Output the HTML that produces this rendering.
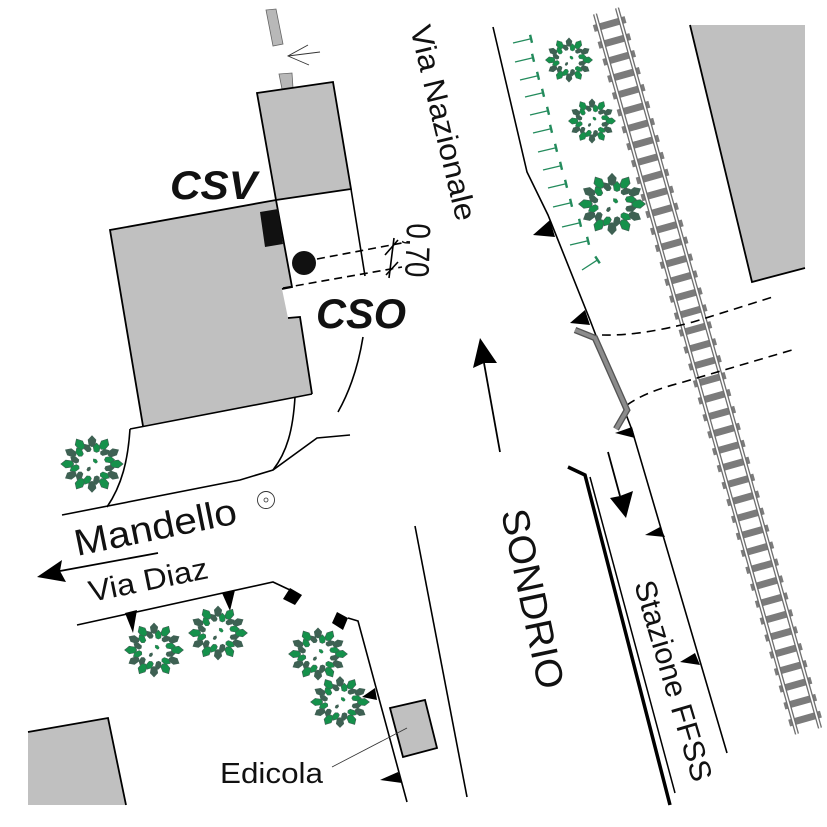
<!DOCTYPE html>
<html><head><meta charset="utf-8"><style>
html,body{margin:0;padding:0;background:#fff;}
svg{display:block;}
text{font-family:"Liberation Sans",Arial,sans-serif;fill:#111;}
</style></head><body>
<svg xmlns="http://www.w3.org/2000/svg" width="827" height="827" viewBox="0 0 827 827">
<defs>
<path id="lf" d="M0,-7 L4.4,-2 L3.4,4.5 L0,6.2 L-3.4,4.5 L-4.4,-2Z"/>
<g id="tree">
 <g fill="#3e6153">
  <use href="#lf" transform="rotate(0) translate(0,-22.5) scale(.9)"/>
  <use href="#lf" transform="rotate(60) translate(0,-22.5) scale(.9)"/>
  <use href="#lf" transform="rotate(120) translate(0,-22.5) scale(.9)"/>
  <use href="#lf" transform="rotate(180) translate(0,-22.5) scale(.9)"/>
  <use href="#lf" transform="rotate(240) translate(0,-22.5) scale(.9)"/>
  <use href="#lf" transform="rotate(300) translate(0,-22.5) scale(.9)"/>
  <use href="#lf" transform="rotate(45) translate(0,-16.5) rotate(20) scale(.72)"/>
  <use href="#lf" transform="rotate(105) translate(0,-16.5) rotate(-20) scale(.72)"/>
  <use href="#lf" transform="rotate(165) translate(0,-16.5) rotate(20) scale(.72)"/>
  <use href="#lf" transform="rotate(225) translate(0,-16.5) rotate(-20) scale(.72)"/>
  <use href="#lf" transform="rotate(285) translate(0,-16.5) rotate(20) scale(.72)"/>
  <use href="#lf" transform="rotate(345) translate(0,-16.5) rotate(-20) scale(.72)"/>
  <use href="#lf" transform="translate(-3,5) rotate(30) scale(.4)"/>
 </g>
 <g fill="#15914b" stroke="#3e6153" stroke-width="0.7">
  <use href="#lf" transform="rotate(30) translate(0,-22.5) scale(.9)"/>
  <use href="#lf" transform="rotate(90) translate(0,-22.5) scale(.9)"/>
  <use href="#lf" transform="rotate(150) translate(0,-22.5) scale(.9)"/>
  <use href="#lf" transform="rotate(210) translate(0,-22.5) scale(.9)"/>
  <use href="#lf" transform="rotate(270) translate(0,-22.5) scale(.9)"/>
  <use href="#lf" transform="rotate(330) translate(0,-22.5) scale(.9)"/>
  <use href="#lf" transform="rotate(15) translate(0,-16.5) rotate(-15) scale(.72)"/>
  <use href="#lf" transform="rotate(75) translate(0,-16.5) rotate(15) scale(.72)"/>
  <use href="#lf" transform="rotate(135) translate(0,-16.5) rotate(-15) scale(.72)"/>
  <use href="#lf" transform="rotate(195) translate(0,-16.5) rotate(15) scale(.72)"/>
  <use href="#lf" transform="rotate(255) translate(0,-16.5) rotate(-15) scale(.72)"/>
  <use href="#lf" transform="rotate(315) translate(0,-16.5) rotate(15) scale(.72)"/>
  <use href="#lf" transform="translate(3,-3) rotate(-40) scale(.4)"/>
 </g>
</g>
<g id="tk" fill="none" stroke="#238b5c">
 <path d="M0,0 L18,-4.2" stroke-width="1.3"/>
 <path d="M17.1,-8.2 L19,-0.2" stroke-width="2.4"/>
</g>
</defs>

<!-- Buildings -->
<polygon points="266,10 276,9 283,44 273,46" fill="#b8b8b8" stroke="#666" stroke-width="0.8"/>
<polygon points="279,74 292,73 293,88 282,89" fill="#b8b8b8" stroke="#666" stroke-width="0.8"/>
<polygon points="257,93 333,82 351,189 276,200" fill="#c0c0c0" stroke="#000" stroke-width="1.8"/>
<polygon points="110,230 276,200 292,287 282,289 288,318 300,317 312,394 143,426" fill="#c0c0c0"/>
<polyline points="143,426 110,230 276,200 292,287 282,289" fill="none" stroke="#000" stroke-width="1.8"/>
<polyline points="288,318 300,317 312,394" fill="none" stroke="#000" stroke-width="1.8"/>
<polygon points="260,212 278,209 283,244 265,247" fill="#111"/>
<polygon points="690,25 805,25 805,268 752,282" fill="#c0c0c0"/>
<polyline points="690,25 752,282 805,268" fill="none" stroke="#000" stroke-width="1.8"/>
<polygon points="28,732 108,718 126,805 28,805" fill="#c0c0c0"/>
<polyline points="28,732 108,718 126,805" fill="none" stroke="#000" stroke-width="1.8"/>
<polygon points="390,708 425,700 437,748 403,757" fill="#c0c0c0" stroke="#000" stroke-width="1.8"/>

<!-- Lines around buildings -->
<g fill="none" stroke="#000" stroke-width="1.6">
 <line x1="351" y1="189" x2="365" y2="276"/>
 <line x1="130" y1="429" x2="312" y2="394"/>
 <path d="M130,429 C128,460 122,485 107,507"/>
 <path d="M295,397 C293,430 287,452 273,470"/>
 <polyline points="62,515 240,480 273,470 317,438 350,435"/>
 <path d="M363,337 Q356,380 338,412"/>
 <polyline points="77,625 273,582 290,590"/>
 <polyline points="348,618 358,621 407,802"/>
 <line x1="415" y1="526" x2="467" y2="797"/>
 <polyline points="493,27 527,172 548,215 590,320 632,430 727,753"/>
 <line x1="394" y1="238" x2="389" y2="278"/>
 <line x1="385" y1="255" x2="398" y2="240"/>
 <line x1="386" y1="275" x2="398" y2="262"/>
</g>
<g fill="none" stroke="#000" stroke-width="1.6" stroke-dasharray="8 5">
 <line x1="317" y1="259" x2="402" y2="243"/>
 <line x1="283" y1="288" x2="402" y2="267"/>
</g>
<circle cx="304" cy="263" r="12" fill="#111"/>

<!-- small thin arrow at top -->
<g fill="none" stroke="#333" stroke-width="0.9">
 <line x1="288" y1="56" x2="320" y2="52"/>
 <polyline points="308,45 288,56 309,65"/>
</g>

<!-- target -->
<circle cx="266" cy="500" r="8.5" fill="none" stroke="#333" stroke-width="0.9"/>
<circle cx="266" cy="500" r="2" fill="none" stroke="#333" stroke-width="0.8"/>

<!-- railway -->
<line x1="606" y1="11" x2="808.5" y2="731" stroke="#7b7b7b" stroke-width="33" stroke-dasharray="7 10.6" stroke-dashoffset="7.6"/>
<line x1="595" y1="14" x2="797" y2="734" stroke="#6f6f6f" stroke-width="4.2"/>
<line x1="617" y1="8" x2="820" y2="728" stroke="#6f6f6f" stroke-width="4.2"/>
<line x1="595" y1="14" x2="797" y2="734" stroke="#fff" stroke-width="1.6"/>
<line x1="617" y1="8" x2="820" y2="728" stroke="#fff" stroke-width="1.6"/>

<!-- dashed crossings -->
<g fill="none" stroke="#000" stroke-width="1.6" stroke-dasharray="9 6">
 <path d="M602,335 Q640,336 693,322 L776,296"/>
 <path d="M627,405 Q645,392 680,383 L792,350"/>
</g>

<!-- pipe -->
<polyline points="575,330 595,338 627,410 616,429" fill="none" stroke="#555" stroke-width="6.5" stroke-linejoin="miter"/>
<polyline points="575,330 595,338 627,410 616,429" fill="none" stroke="#8c8c8c" stroke-width="3.8"/>

<!-- double line -->
<polyline points="568,467 585,475 670,805" fill="none" stroke="#000" stroke-width="3.5"/>
<line x1="590" y1="477" x2="675" y2="793" stroke="#000" stroke-width="1.5"/>

<!-- arrows -->
<line x1="500" y1="452" x2="484" y2="363" stroke="#000" stroke-width="1.8"/>
<polygon points="480,338 473,368 484,363 497,363" fill="#000"/>
<line x1="608" y1="452" x2="620" y2="496" stroke="#000" stroke-width="1.8"/>
<polygon points="626,518 610,498 620,496 633,491" fill="#000"/>
<line x1="60" y1="571" x2="158" y2="553" stroke="#000" stroke-width="1.8"/>
<polygon points="37,577 62,560 60,571 66,582" fill="#000"/>

<!-- curb triangles -->
<g fill="#000">
 <polygon points="533,235 550,220 555,237"/>
 <polygon points="570,323 585,310 590,325"/>
 <polygon points="615,433 632,427 635,438"/>
 <polygon points="645,535 660,527 665,537"/>
 <polygon points="680,662 695,653 700,665"/>
 <polygon points="125,613 137,610 133,633"/>
 <polygon points="222,593 235,590 230,611"/>
 <polygon points="362,697 375,688 377,700"/>
 <polygon points="380,780 398,772 402,783"/>
 <polygon points="290,588 302,595 295,605 283,599"/>
 <polygon points="337,612 348,618 343,630 332,623"/>
</g>

<!-- edicola leader -->
<line x1="332" y1="767" x2="407" y2="728" stroke="#333" stroke-width="0.8"/>

<!-- green markers -->
<use href="#tk" transform="translate(513,43)"/>
<use href="#tk" transform="translate(515,62)"/>
<use href="#tk" transform="translate(520,80)"/>
<use href="#tk" transform="translate(525,97)"/>
<use href="#tk" transform="translate(530,115)"/>
<use href="#tk" transform="translate(533,133)"/>
<use href="#tk" transform="translate(538,152)"/>
<use href="#tk" transform="translate(543,170)"/>
<use href="#tk" transform="translate(548,188)"/>
<use href="#tk" transform="translate(553,207)"/>
<use href="#tk" transform="translate(562,227)"/>
<use href="#tk" transform="translate(570,245)"/>
<use href="#tk" transform="translate(582,270) rotate(-20)"/>

<!-- trees -->
<use href="#tree" transform="translate(92,464) scale(1.08,1.0)"/>
<use href="#tree" transform="translate(569,60) scale(0.82,0.78)"/>
<use href="#tree" transform="translate(592,121) scale(0.82,0.78)"/>
<use href="#tree" transform="translate(612,204) scale(1.16,1.08)"/>
<use href="#tree" transform="translate(154,650) scale(1.02,0.95)"/>
<use href="#tree" transform="translate(218,633) scale(1.02,0.95)"/>
<use href="#tree" transform="translate(318,654) scale(1.02,0.92)"/>
<use href="#tree" transform="translate(340,702) scale(1.02,0.9)"/>

<!-- labels -->
<text x="170" y="199" font-size="40" font-weight="bold" font-style="italic" textLength="87" lengthAdjust="spacingAndGlyphs">CSV</text>
<text x="316" y="328" font-size="42" font-weight="bold" font-style="italic" textLength="90" lengthAdjust="spacingAndGlyphs">CSO</text>
<text transform="translate(407,223) rotate(92)" font-size="34" textLength="54" lengthAdjust="spacingAndGlyphs">0,70</text>
<text transform="translate(410,28) rotate(76.5)" font-size="30" textLength="200" lengthAdjust="spacingAndGlyphs">Via Nazionale</text>
<text transform="translate(501,512) rotate(78)" font-size="38" textLength="183" lengthAdjust="spacingAndGlyphs">SONDRIO</text>
<text transform="translate(634,584) rotate(73.5)" font-size="30" textLength="208" lengthAdjust="spacingAndGlyphs">Stazione FFSS</text>
<text transform="translate(77,556) rotate(-11.5)" font-size="37" textLength="165" lengthAdjust="spacingAndGlyphs">Mandello</text>
<text transform="translate(91,602) rotate(-11.5)" font-size="30" textLength="121" lengthAdjust="spacingAndGlyphs">Via Diaz</text>
<text x="220" y="783" font-size="29" textLength="103" lengthAdjust="spacingAndGlyphs">Edicola</text>
</svg>
</body></html>
